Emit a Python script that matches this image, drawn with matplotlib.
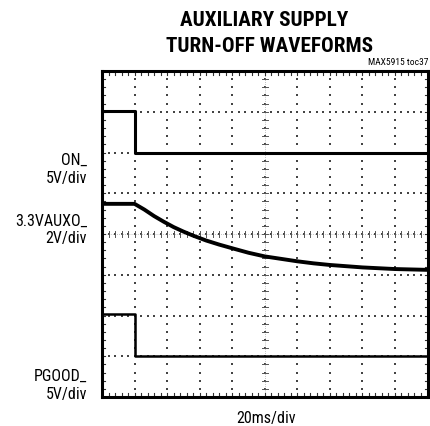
import matplotlib
matplotlib.use("Agg")
import matplotlib.pyplot as plt
import numpy as np

# scope screen: 10 x 8 divisions, values read in divisions from the bottom edge
on_t = [0.0, 1.0, 1.0, 10.0]
on_y = [7.01, 7.01, 6.0, 6.0]

aux_t = [0.0, 1.0, 1.3, 1.6, 1.9, 2.2, 2.5, 2.8, 3.2, 3.6, 4.0, 4.5, 5.0, 5.5,
         6.0, 6.5, 7.0, 7.5, 8.0, 8.5, 9.0, 9.5, 10.0]
aux_y = [4.74, 4.74, 4.60, 4.44, 4.30, 4.17, 4.06, 3.96, 3.84, 3.74, 3.65, 3.54,
         3.45, 3.39, 3.33, 3.28, 3.24, 3.21, 3.18, 3.16, 3.14, 3.13, 3.12]

pg_t = [0.0, 1.0, 1.0, 10.0]
pg_y = [2.03, 2.03, 1.0, 1.0]

ch_labels = [("ON_\n5V/div", 169.5), ("3.3VAUXO_\n2V/div", 230), ("PGOOD_\n5V/div", 385.5)]

fnt = ["Liberation Sans Narrow", "Roboto Condensed", "Archivo Narrow", "DejaVu Sans"]

fig = plt.figure(figsize=(4.30, 4.27), dpi=100)
ax = fig.add_axes([102 / 430, 29 / 427, 325.5 / 430, 326 / 427])
ax.set_xlim(0, 10)
ax.set_ylim(0, 8)
ax.set_xticks([])
ax.set_yticks([])
for s in ax.spines.values():
    s.set_linewidth(2.2)
    s.set_color("black")

# dotted graticule
for gx in range(1, 10):
    yy = np.arange(0, 8.01, 0.2)
    ax.scatter(np.full_like(yy, gx), yy, s=0.6, c="#444444", marker="s", lw=0, zorder=1)
for gy in range(1, 8):
    xx = np.arange(0, 10.01, 0.2)
    ax.scatter(xx, np.full_like(xx, gy), s=0.6, c="#444444", marker="s", lw=0, zorder=1)

# center cross ticks and border ticks
mx = np.arange(0.2, 10, 0.2)
my = np.arange(0.2, 8, 0.2)
ax.plot([5, 5], [0, 8], color="#888888", lw=0.5, ls=(0, (1, 2)), zorder=1)
ax.plot([0, 10], [4, 4], color="#888888", lw=0.5, ls=(0, (1, 2)), zorder=1)
for v in mx:
    ax.plot([v, v], [3.93, 4.07], color="#555555", lw=0.7, zorder=1)
    ax.plot([v, v], [7.9, 8], color="#333333", lw=0.8, zorder=1)
    ax.plot([v, v], [0, 0.1], color="#333333", lw=0.8, zorder=1)
for v in my:
    ax.plot([4.91, 5.09], [v, v], color="#555555", lw=0.7, zorder=1)
    ax.plot([0, 0.08], [v, v], color="#333333", lw=0.8, zorder=1)
    ax.plot([9.92, 10], [v, v], color="#333333", lw=0.8, zorder=1)

ax.plot(on_t, on_y, color="black", lw=2.2, zorder=3)
ax.plot([1.0, 1.0], [6.0, 7.01], color="black", lw=0.8, zorder=3)
ax.plot(aux_t, aux_y, color="black", lw=2.8, zorder=3)
ax.plot(pg_t, pg_y, color="black", lw=1.8, zorder=3)
ax.plot([1.0, 1.0], [1.0, 2.03], color="black", lw=0.8, zorder=3)

fig.text(264 / 430, 1 - 20.5 / 427, "AUXILIARY SUPPLY", ha="center", va="center",
         fontsize=15.2, fontweight="bold", family=fnt)
fig.text(269 / 430, 1 - 47 / 427, "TURN-OFF WAVEFORMS", ha="center", va="center",
         fontsize=15.2, fontweight="bold", family=fnt)
fig.text(428 / 430, 1 - 62.7 / 427, "MAX5915 toc37", ha="right", va="center",
         fontsize=6.8, family=fnt)
for txt, yc in ch_labels:
    fig.text(87 / 430, 1 - yc / 427, txt, ha="right", va="center", fontsize=11.5,
             family=fnt, linespacing=1.25)
fig.text(266 / 430, 1 - 419 / 427, "20ms/div", ha="center", va="center",
         fontsize=11.5, family=fnt)

fig.savefig("out.png", dpi=100)
